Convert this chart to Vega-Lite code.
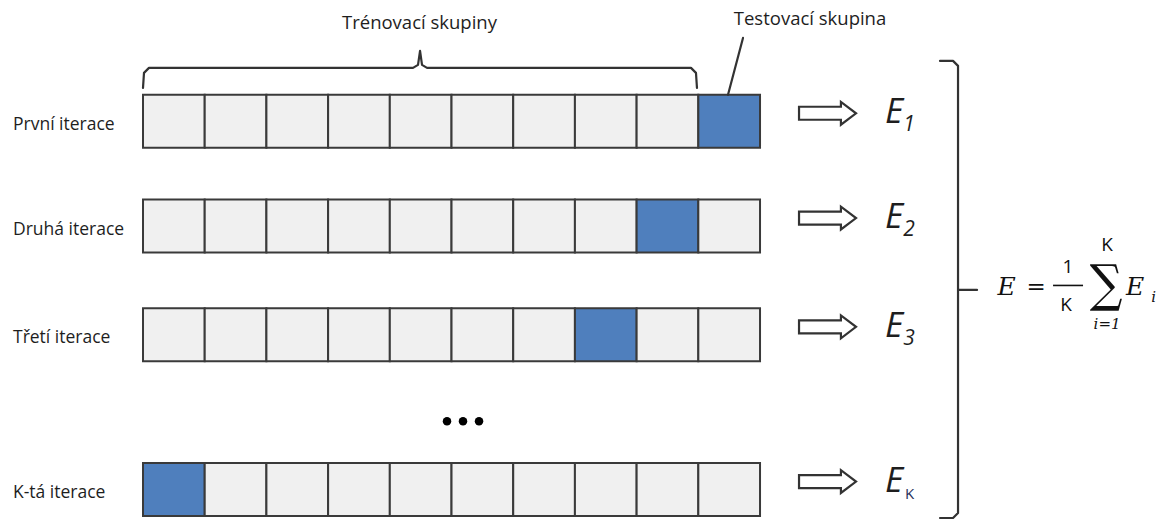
{
  "$schema": "https://vega.github.io/schema/vega-lite/v6.json",
  "width": 1163,
  "height": 521,
  "autosize": {"type": "fit", "contains": "padding"},
  "padding": 0,
  "background": "white",
  "config": {"view": {"stroke": null}},
  "datasets": {
    "rows": [
      {"row": 1, "iterace": "První iterace", "yc": 121.5, "sub": "1"},
      {"row": 2, "iterace": "Druhá iterace", "yc": 226.5, "sub": "2"},
      {"row": 3, "iterace": "Třetí iterace", "yc": 335.5, "sub": "3"},
      {"row": 4, "iterace": "K-tá iterace", "yc": 490.5, "sub": "K"}
    ],
    "cells": [
      {"row": 1, "col": 1, "set": "trénovací"}, {"row": 1, "col": 2, "set": "trénovací"}, {"row": 1, "col": 3, "set": "trénovací"}, {"row": 1, "col": 4, "set": "trénovací"}, {"row": 1, "col": 5, "set": "trénovací"},
      {"row": 1, "col": 6, "set": "trénovací"}, {"row": 1, "col": 7, "set": "trénovací"}, {"row": 1, "col": 8, "set": "trénovací"}, {"row": 1, "col": 9, "set": "trénovací"}, {"row": 1, "col": 10, "set": "testovací"},
      {"row": 2, "col": 1, "set": "trénovací"}, {"row": 2, "col": 2, "set": "trénovací"}, {"row": 2, "col": 3, "set": "trénovací"}, {"row": 2, "col": 4, "set": "trénovací"}, {"row": 2, "col": 5, "set": "trénovací"},
      {"row": 2, "col": 6, "set": "trénovací"}, {"row": 2, "col": 7, "set": "trénovací"}, {"row": 2, "col": 8, "set": "trénovací"}, {"row": 2, "col": 9, "set": "testovací"}, {"row": 2, "col": 10, "set": "trénovací"},
      {"row": 3, "col": 1, "set": "trénovací"}, {"row": 3, "col": 2, "set": "trénovací"}, {"row": 3, "col": 3, "set": "trénovací"}, {"row": 3, "col": 4, "set": "trénovací"}, {"row": 3, "col": 5, "set": "trénovací"},
      {"row": 3, "col": 6, "set": "trénovací"}, {"row": 3, "col": 7, "set": "trénovací"}, {"row": 3, "col": 8, "set": "testovací"}, {"row": 3, "col": 9, "set": "trénovací"}, {"row": 3, "col": 10, "set": "trénovací"},
      {"row": 4, "col": 1, "set": "testovací"}, {"row": 4, "col": 2, "set": "trénovací"}, {"row": 4, "col": 3, "set": "trénovací"}, {"row": 4, "col": 4, "set": "trénovací"}, {"row": 4, "col": 5, "set": "trénovací"},
      {"row": 4, "col": 6, "set": "trénovací"}, {"row": 4, "col": 7, "set": "trénovací"}, {"row": 4, "col": 8, "set": "trénovací"}, {"row": 4, "col": 9, "set": "trénovací"}, {"row": 4, "col": 10, "set": "trénovací"}
    ],
    "paths": [
      {"part": "train", "i": 0, "x": 0.5, "y": 88},
      {"part": "train", "i": 1, "x": 0.516, "y": 73},
      {"part": "train", "i": 2, "x": 0.597, "y": 68},
      {"part": "train", "i": 3, "x": 4.876, "y": 68},
      {"part": "train", "i": 4, "x": 4.957, "y": 65},
      {"part": "train", "i": 5, "x": 4.99, "y": 51},
      {"part": "train", "i": 6, "x": 5.022, "y": 65},
      {"part": "train", "i": 7, "x": 5.103, "y": 68},
      {"part": "train", "i": 8, "x": 9.381, "y": 68},
      {"part": "train", "i": 9, "x": 9.462, "y": 73},
      {"part": "train", "i": 10, "x": 9.478, "y": 88},
      {"part": "test", "i": 0, "x": 10.224, "y": 38},
      {"part": "test", "i": 1, "x": 9.981, "y": 95},
      {"part": "bracket", "i": 0, "x": 13.417, "y": 61},
      {"part": "bracket", "i": 1, "x": 13.628, "y": 61},
      {"part": "bracket", "i": 2, "x": 13.709, "y": 66},
      {"part": "bracket", "i": 3, "x": 13.709, "y": 514},
      {"part": "bracket", "i": 4, "x": 13.628, "y": 519},
      {"part": "bracket", "i": 5, "x": 13.417, "y": 519},
      {"part": "tip", "i": 0, "x": 13.709, "y": 290.5},
      {"part": "tip", "i": 1, "x": 14.017, "y": 290.5}
    ],
    "frac": [
      {"i": 0, "x": 15.249, "y": 286},
      {"i": 1, "x": 15.735, "y": 286}
    ],
    "dots": [
      {"x": 5.427, "y": 422},
      {"x": 5.686, "y": 422},
      {"x": 5.946, "y": 422}
    ],
    "notes": [
      {"role": "label", "text": "Trénovací skupiny", "x": 4.981, "y": 29},
      {"role": "label", "text": "Testovací skupina", "x": 11.31, "y": 25},
      {"role": "var", "text": "E", "x": 14.35, "y": 296},
      {"role": "var", "text": "E", "x": 16.43, "y": 296},
      {"role": "op", "text": "=", "x": 14.973, "y": 295},
      {"role": "num", "text": "1", "x": 15.492, "y": 274},
      {"role": "num", "text": "K", "x": 15.459, "y": 312},
      {"role": "num", "text": "K", "x": 16.124, "y": 251},
      {"role": "sum", "text": "∑", "x": 16.108, "y": 302},
      {"role": "idx", "text": "i=1", "x": 16.124, "y": 330},
      {"role": "idx", "text": "i", "x": 16.88, "y": 303}
    ]
  },
  "layer": [
    {
      "data": {"name": "cells"},
      "transform": [{"lookup": "row", "from": {"data": {"name": "rows"}, "key": "row", "fields": ["yc"]}}],
      "mark": {"type": "point", "filled": true, "shape": "M-1,-0.859H1V0.859H-1Z", "size": 3807, "stroke": "#3a3a3a", "strokeWidth": 2, "opacity": 1, "fillOpacity": 1},
      "encoding": {
        "x": {"field": "col", "type": "quantitative", "scale": {"domain": [-1.8177, 17.031], "nice": false, "zero": false}, "axis": null},
        "y": {"field": "yc", "type": "quantitative", "scale": {"domain": [0, 521], "reverse": true, "nice": false, "zero": false}, "axis": null},
        "fill": {"field": "set", "type": "nominal", "scale": {"domain": ["trénovací", "testovací"], "range": ["#f0f0f0", "#4f7fbd"]}, "legend": null}
      }
    },
    {
      "data": {"name": "rows"},
      "mark": {"type": "text", "align": "left", "baseline": "alphabetic", "dy": 8.5, "font": "Open Sans", "fontSize": 17.5, "color": "#1e1e1e"},
      "encoding": {
        "x": {"datum": -1.607, "type": "quantitative", "scale": {"domain": [-1.8177, 17.031], "nice": false, "zero": false}, "axis": null},
        "y": {"field": "yc", "type": "quantitative", "scale": {"domain": [0, 521], "reverse": true, "nice": false, "zero": false}, "axis": null},
        "text": {"field": "iterace"}
      }
    },
    {
      "data": {"name": "rows"},
      "mark": {"type": "point", "filled": true, "shape": "M-1,-0.228L0.47,-0.228L0.47,-0.4L1,0L0.47,0.4L0.47,0.228L-1,0.228Z", "size": 3249, "fill": "white", "stroke": "#333333", "strokeWidth": 2.2, "opacity": 1, "yOffset": -8},
      "encoding": {
        "x": {"datum": 11.594, "type": "quantitative", "scale": {"domain": [-1.8177, 17.031], "nice": false, "zero": false}, "axis": null},
        "y": {"field": "yc", "type": "quantitative", "scale": {"domain": [0, 521], "reverse": true, "nice": false, "zero": false}, "axis": null}
      }
    },
    {
      "data": {"name": "rows"},
      "mark": {"type": "text", "align": "left", "baseline": "alphabetic", "dy": 2, "font": "Open Sans", "fontStyle": "italic", "fontSize": 35, "color": "#1e1e1e"},
      "encoding": {
        "x": {"datum": 12.526, "type": "quantitative", "scale": {"domain": [-1.8177, 17.031], "nice": false, "zero": false}, "axis": null},
        "y": {"field": "yc", "type": "quantitative", "scale": {"domain": [0, 521], "reverse": true, "nice": false, "zero": false}, "axis": null},
        "text": {"value": "E"}
      }
    },
    {
      "data": {"name": "rows"},
      "transform": [{"filter": "datum.sub !== 'K'"}],
      "mark": {"type": "text", "align": "left", "baseline": "alphabetic", "dy": 10, "font": "Open Sans", "fontStyle": "italic", "fontSize": 21, "color": "#1e1e1e"},
      "encoding": {
        "x": {"datum": 12.82, "type": "quantitative", "scale": {"domain": [-1.8177, 17.031], "nice": false, "zero": false}, "axis": null},
        "y": {"field": "yc", "type": "quantitative", "scale": {"domain": [0, 521], "reverse": true, "nice": false, "zero": false}, "axis": null},
        "text": {"field": "sub"}
      }
    },
    {
      "data": {"name": "rows"},
      "transform": [{"filter": "datum.sub === 'K'"}],
      "mark": {"type": "text", "align": "left", "baseline": "alphabetic", "dy": 9.5, "font": "Open Sans", "fontSize": 15, "color": "#1f2f5a"},
      "encoding": {
        "x": {"datum": 12.85, "type": "quantitative", "scale": {"domain": [-1.8177, 17.031], "nice": false, "zero": false}, "axis": null},
        "y": {"field": "yc", "type": "quantitative", "scale": {"domain": [0, 521], "reverse": true, "nice": false, "zero": false}, "axis": null},
        "text": {"field": "sub"}
      }
    },
    {
      "data": {"name": "paths"},
      "mark": {"type": "line", "stroke": "#333333", "strokeWidth": 2.2, "strokeJoin": "round", "strokeCap": "round"},
      "encoding": {
        "x": {"field": "x", "type": "quantitative", "scale": {"domain": [-1.8177, 17.031], "nice": false, "zero": false}, "axis": null},
        "y": {"field": "y", "type": "quantitative", "scale": {"domain": [0, 521], "reverse": true, "nice": false, "zero": false}, "axis": null},
        "detail": {"field": "part"},
        "order": {"field": "i", "type": "quantitative"}
      }
    },
    {
      "data": {"name": "frac"},
      "mark": {"type": "line", "stroke": "#111111", "strokeWidth": 1.6},
      "encoding": {
        "x": {"field": "x", "type": "quantitative", "scale": {"domain": [-1.8177, 17.031], "nice": false, "zero": false}, "axis": null},
        "y": {"field": "y", "type": "quantitative", "scale": {"domain": [0, 521], "reverse": true, "nice": false, "zero": false}, "axis": null},
        "order": {"field": "i", "type": "quantitative"}
      }
    },
    {
      "data": {"name": "dots"},
      "mark": {"type": "circle", "size": 72, "color": "#000000", "opacity": 1},
      "encoding": {
        "x": {"field": "x", "type": "quantitative", "scale": {"domain": [-1.8177, 17.031], "nice": false, "zero": false}, "axis": null},
        "y": {"field": "y", "type": "quantitative", "scale": {"domain": [0, 521], "reverse": true, "nice": false, "zero": false}, "axis": null}
      }
    },
    {
      "data": {"name": "notes"},
      "transform": [{"filter": "datum.role === 'label'"}],
      "mark": {"type": "text", "align": "center", "baseline": "alphabetic", "font": "Open Sans", "fontSize": 18.5, "color": "#1e1e1e"},
      "encoding": {
        "x": {"field": "x", "type": "quantitative", "scale": {"domain": [-1.8177, 17.031], "nice": false, "zero": false}, "axis": null},
        "y": {"field": "y", "type": "quantitative", "scale": {"domain": [0, 521], "reverse": true, "nice": false, "zero": false}, "axis": null},
        "text": {"field": "text"}
      }
    },
    {
      "data": {"name": "notes"},
      "transform": [{"filter": "datum.role === 'var'"}],
      "mark": {"type": "text", "align": "left", "baseline": "alphabetic", "font": "DejaVu Serif", "fontStyle": "italic", "fontSize": 25, "color": "#111111"},
      "encoding": {
        "x": {"field": "x", "type": "quantitative", "scale": {"domain": [-1.8177, 17.031], "nice": false, "zero": false}, "axis": null},
        "y": {"field": "y", "type": "quantitative", "scale": {"domain": [0, 521], "reverse": true, "nice": false, "zero": false}, "axis": null},
        "text": {"field": "text"}
      }
    },
    {
      "data": {"name": "notes"},
      "transform": [{"filter": "datum.role === 'op'"}],
      "mark": {"type": "text", "align": "center", "baseline": "alphabetic", "font": "DejaVu Serif", "fontSize": 23, "color": "#111111"},
      "encoding": {
        "x": {"field": "x", "type": "quantitative", "scale": {"domain": [-1.8177, 17.031], "nice": false, "zero": false}, "axis": null},
        "y": {"field": "y", "type": "quantitative", "scale": {"domain": [0, 521], "reverse": true, "nice": false, "zero": false}, "axis": null},
        "text": {"field": "text"}
      }
    },
    {
      "data": {"name": "notes"},
      "transform": [{"filter": "datum.role === 'num'"}],
      "mark": {"type": "text", "align": "center", "baseline": "alphabetic", "font": "Open Sans", "fontSize": 19, "color": "#111111"},
      "encoding": {
        "x": {"field": "x", "type": "quantitative", "scale": {"domain": [-1.8177, 17.031], "nice": false, "zero": false}, "axis": null},
        "y": {"field": "y", "type": "quantitative", "scale": {"domain": [0, 521], "reverse": true, "nice": false, "zero": false}, "axis": null},
        "text": {"field": "text"}
      }
    },
    {
      "data": {"name": "notes"},
      "transform": [{"filter": "datum.role === 'sum'"}],
      "mark": {"type": "text", "align": "center", "baseline": "alphabetic", "font": "'DejaVu Serif Condensed', 'DejaVu Serif'", "fontSize": 51, "color": "#111111"},
      "encoding": {
        "x": {"field": "x", "type": "quantitative", "scale": {"domain": [-1.8177, 17.031], "nice": false, "zero": false}, "axis": null},
        "y": {"field": "y", "type": "quantitative", "scale": {"domain": [0, 521], "reverse": true, "nice": false, "zero": false}, "axis": null},
        "text": {"field": "text"}
      }
    },
    {
      "data": {"name": "notes"},
      "transform": [{"filter": "datum.role === 'idx'"}],
      "mark": {"type": "text", "align": "center", "baseline": "alphabetic", "font": "DejaVu Serif", "fontStyle": "italic", "fontSize": 15, "color": "#111111"},
      "encoding": {
        "x": {"field": "x", "type": "quantitative", "scale": {"domain": [-1.8177, 17.031], "nice": false, "zero": false}, "axis": null},
        "y": {"field": "y", "type": "quantitative", "scale": {"domain": [0, 521], "reverse": true, "nice": false, "zero": false}, "axis": null},
        "text": {"field": "text"}
      }
    }
  ]
}
